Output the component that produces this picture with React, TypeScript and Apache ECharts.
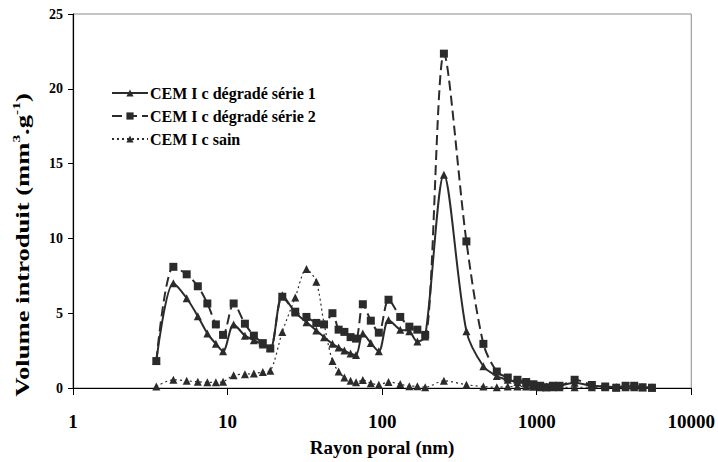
import React, { useEffect, useRef } from "react";
import * as echarts from "echarts";

const radius: number[] = [3.46, 4.46, 5.44, 6.42, 7.4, 8.4, 9.35, 10.95, 12.95, 14.8, 16.9, 18.9, 22.6, 27.4, 32.4, 37.5, 42.1, 47.7, 52.3, 57, 62.5, 67.8, 75, 84.5, 95.2, 110, 131, 150, 169, 190, 251, 351, 452, 552, 650, 751, 855, 953, 1054, 1152, 1273, 1405, 1760, 2275, 2775, 3270, 3760, 4275, 4840, 5570];

const serie1: number[] = [1.8, 7.0, 6.0, 4.8, 3.65, 2.95, 2.45, 4.25, 3.5, 3.2, 2.9, 2.65, 6.2, 5.05, 4.4, 3.85, 3.4, 2.95, 2.7, 2.5, 2.3, 2.2, 3.65, 3.0, 2.45, 4.55, 3.9, 3.8, 3.1, 3.45, 14.25, 3.8, 1.45, 0.8, 0.55, 0.4, 0.3, 0.2, 0.15, 0.1, 0.1, 0.15, 0.35, 0.15, 0.1, 0.05, 0.1, 0.1, 0.05, 0.02];

const serie2: number[] = [1.8, 8.1, 7.6, 6.8, 5.65, 4.25, 3.55, 5.65, 4.3, 3.5, 3.0, 2.65, 6.1, 5.1, 4.75, 4.35, 4.25, 5.0, 3.9, 3.75, 3.4, 3.3, 5.6, 4.5, 3.7, 5.9, 4.75, 4.1, 3.9, 3.55, 22.35, 9.8, 2.95, 1.1, 0.7, 0.55, 0.4, 0.25, 0.15, 0.05, 0.15, 0.15, 0.55, 0.2, 0.1, 0.02, 0.15, 0.15, 0.05, 0.02];

const sain: number[] = [0.1, 0.55, 0.48, 0.42, 0.38, 0.38, 0.42, 0.85, 0.92, 0.97, 1.07, 1.16, 3.75, 6.05, 7.95, 7.1, 4.3, 1.8, 1.1, 0.7, 0.48, 0.38, 0.53, 0.32, 0.22, 0.4, 0.26, 0.12, 0.12, 0.05, 0.48, 0.22, 0.1, 0.05, 0.1, 0.1, 0.1, 0.08, 0.05, 0.05, 0.05, 0.05, 0.05, 0.05, 0.05, 0.05, 0.05, 0.05, 0.05, 0.05];

const seriesNames: string[] = ["CEM I c dégradé série 1", "CEM I c dégradé série 2", "CEM I c sain"];
const xTicks: number[] = [1, 10, 100, 1000, 10000];
const yTitle = "Volume introduit (mm{sup|3}.g{sup|-1})";
const xTitle = "Rayon poral (nm)";

const FONT = "'Liberation Serif', 'Times New Roman', serif";
const DARK = "#2b2b2b";

export default function App() {
  const ref = useRef<HTMLDivElement>(null);
  useEffect(() => {
    if (!ref.current) return;
    const chart = echarts.init(ref.current, undefined, { renderer: "svg" });
    const toPairs = (ys: number[]) => radius.map((x, i) => [x, ys[i]]);
    chart.setOption({
      animation: false,
      backgroundColor: "#fff",
      grid: {
        left: 73,
        right: 26,
        top: 14,
        bottom: 68,
        show: true,
        borderColor: "#8a8a8a",
        borderWidth: 1,
      },
      legend: {
        orient: "vertical",
        left: 106,
        top: 80,
        itemWidth: 36,
        itemHeight: 9,
        itemGap: 7,
        data: seriesNames,
        textStyle: { fontFamily: FONT, fontWeight: "bold", fontSize: 16, color: "#000", padding: [0, 0, 0, -3] },
      },
      xAxis: {
        type: "log",
        logBase: 10,
        min: xTicks[0],
        max: xTicks[xTicks.length - 1],
        name: xTitle,
        nameLocation: "middle",
        nameGap: 50,
        nameTextStyle: { fontFamily: FONT, fontWeight: "bold", fontSize: 19, color: "#000" },
        axisLine: { lineStyle: { color: "#000", width: 1.2 } },
        axisTick: { show: true, length: 7, inside: false, lineStyle: { color: "#000" } },
        minorTick: { show: false },
        splitLine: { show: false },
        axisLabel: {
          fontFamily: FONT,
          fontWeight: "bold",
          fontSize: 19,
          color: "#000",
          margin: 24,
          formatter: (v: number) => String(Math.round(v)),
        },
      },
      yAxis: {
        type: "value",
        min: 0,
        max: 25,
        interval: 5,
        axisLine: { show: true, lineStyle: { color: "#000", width: 1.2 } },
        axisTick: { show: true, length: 5, lineStyle: { color: "#000" } },
        splitLine: { show: false },
        axisLabel: { fontFamily: FONT, fontWeight: "bold", fontSize: 14, color: "#000", margin: 10 },
      },
      graphic: [
        {
          type: "text",
          x: 22,
          y: 245,
          rotation: Math.PI / 2,
          scaleX: 1.4,
          style: {
            text: yTitle,
            fontFamily: FONT,
            fontWeight: "bold",
            fontSize: 19,
            lineHeight: 22,
            fill: "#000",
            align: "center",
            verticalAlign: "middle",
            rich: {
              sup: { fontFamily: FONT, fontWeight: "bold", fontSize: 11, verticalAlign: "top", fill: "#000" },
            },
          },
        },
      ],
      series: [
        {
          name: seriesNames[0],
          type: "line",
          data: toPairs(serie1),
          smooth: 0.3,
          symbol: "triangle",
          symbolSize: 8,
          lineStyle: { color: DARK, width: 2, type: "solid" },
          itemStyle: { color: DARK },
        },
        {
          name: seriesNames[1],
          type: "line",
          data: toPairs(serie2),
          smooth: 0.3,
          symbol: "rect",
          symbolSize: 8,
          lineStyle: { color: DARK, width: 2, type: [10, 5] },
          itemStyle: { color: DARK },
        },
        {
          name: seriesNames[2],
          type: "line",
          data: toPairs(sain),
          smooth: 0.3,
          symbol: "triangle",
          symbolSize: 8,
          lineStyle: { color: DARK, width: 1.2, type: [2, 3] },
          itemStyle: { color: DARK },
        },
      ],
    });
    return () => chart.dispose();
  }, []);
  return <div ref={ref} style={{ position: "fixed", left: 0, top: 0, width: 718, height: 462 }} />;
}
